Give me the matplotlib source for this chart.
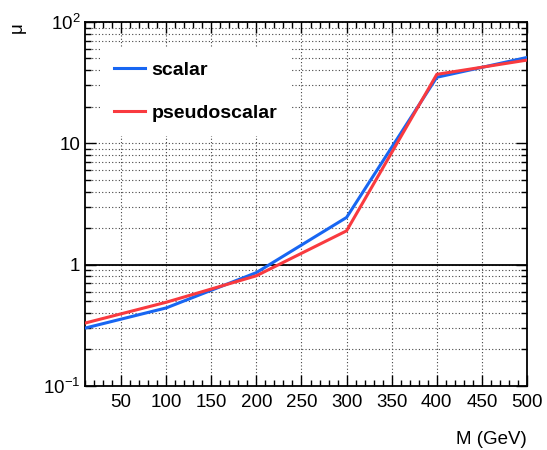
import math

import matplotlib
matplotlib.use('Agg')
import matplotlib.pyplot as plt
from matplotlib.ticker import MultipleLocator, LogLocator, FuncFormatter, NullFormatter

plt.rcParams['font.family'] = ['Liberation Sans', 'DejaVu Sans']
plt.rcParams['mathtext.fontset'] = 'custom'
plt.rcParams['mathtext.rm'] = 'Liberation Sans'

# ── data ──────────────────────────────────────────────────────────────────────
mass = [10, 100, 200, 300, 400, 500]
mu_scalar = [0.30, 0.44, 0.86, 2.45, 35.0, 51.0]
mu_pseudo = [0.33, 0.49, 0.81, 1.90, 37.0, 48.5]

BLUE, RED = '#1866f2', '#f93a3f'

fig = plt.figure(figsize=(5.47, 4.5), dpi=100)
ax = fig.add_axes([0.1554, 0.1422, 0.808, 0.809])

ax.plot(mass, mu_scalar, color=BLUE, lw=2.2, label='scalar', zorder=3)
ax.plot(mass, mu_pseudo, color=RED, lw=2.2, label='pseudoscalar', zorder=3)
ax.axhline(1, color='black', lw=1.3, zorder=2)

ax.set_yscale('log')
ax.set_xlim(10, 500)
ax.set_ylim(0.1, 100)

ax.xaxis.set_major_locator(MultipleLocator(50))
ax.xaxis.set_minor_locator(MultipleLocator(10))
ax.yaxis.set_major_locator(LogLocator(base=10))
ax.yaxis.set_minor_locator(LogLocator(base=10, subs=range(2, 10)))
ax.yaxis.set_minor_formatter(NullFormatter())

def ylab(v, pos):
    if abs(v - 1) < 1e-9:
        return '1'
    if abs(v - 10) < 1e-9:
        return '10'
    return r'$\mathregular{10^{%d}}$' % int(round(math.log10(v)))

ax.yaxis.set_major_formatter(FuncFormatter(ylab))

ax.tick_params(which='both', direction='in', top=True, right=True,
               labelsize=13.5, width=1)
ax.tick_params(which='major', length=8)
ax.tick_params(which='minor', length=4)
ax.tick_params(axis='x', which='major', pad=6)
for s in ax.spines.values():
    s.set_linewidth(1.3)

ax.grid(which='major', axis='x', color='#444444', ls=(0, (1, 2)), lw=0.8)
ax.grid(which='both', axis='y', color='#444444', ls=(0, (1, 2)), lw=0.8)

ax.set_xlabel('M (GeV)', loc='right', fontsize=13.5, labelpad=14)
ax.set_ylabel('μ', loc='top', fontsize=13.5, labelpad=12)

leg = ax.legend(loc='upper left', bbox_to_anchor=(0.012, 0.955), frameon=True,
                fancybox=False, edgecolor='none', facecolor='white', framealpha=1,
                prop={'weight': 'bold', 'size': 14}, handlelength=1.6,
                handletextpad=0.35, labelspacing=1.3, borderpad=0.7)

fig.savefig('out.png', dpi=100)
